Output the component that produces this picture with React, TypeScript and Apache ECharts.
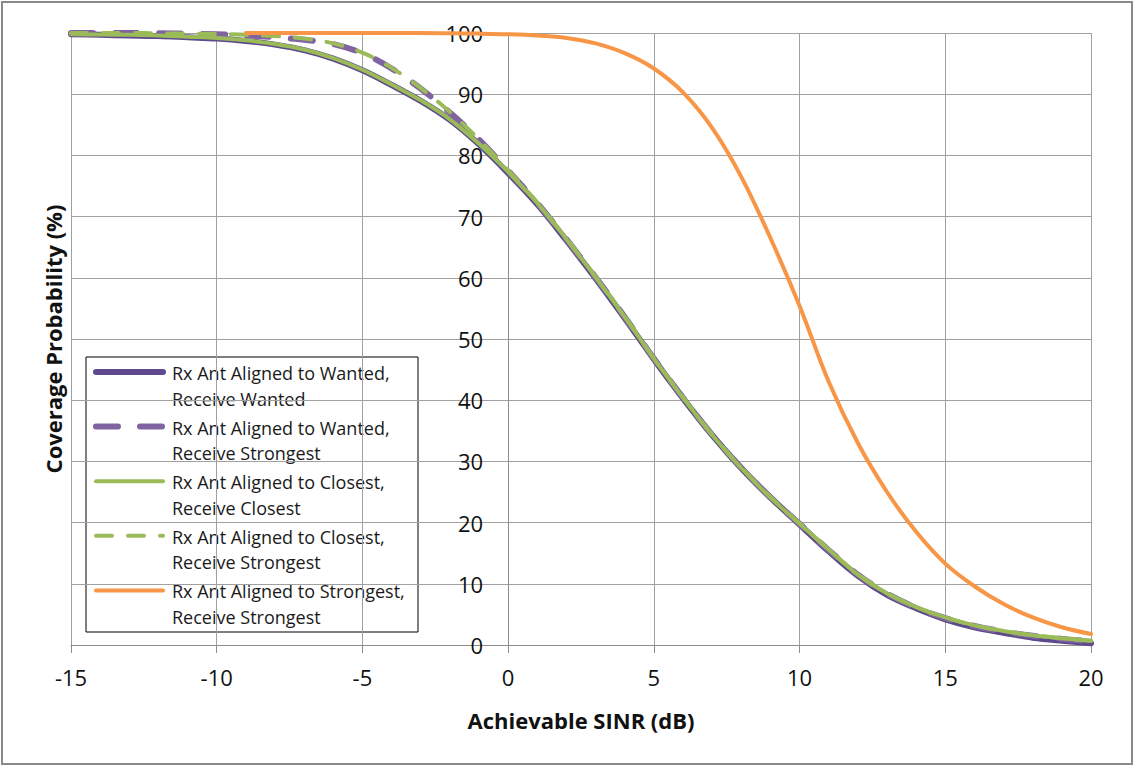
import React, { useEffect, useRef } from "react";
import * as echarts from "echarts";

const FONT = "'Open Sans', 'Noto Sans', sans-serif";

// Achievable SINR (dB) sample points
const sinrDb = [
  -15, -14, -13, -12, -11, -10, -9, -8, -7, -6, -5, -4, -3, -2, -1, 0, 1, 2,
  3, 4, 5, 6, 7, 8, 9, 10, 11, 12, 13, 14, 15, 16, 17, 18, 19, 20,
];

// Coverage probability (%) per series
const wantedWanted = [
  99.8, 99.7, 99.6, 99.5, 99.3, 99.1, 98.7, 98.1, 97.2, 95.8, 93.9, 91.5,
  88.9, 85.8, 81.8, 77.1, 72.0, 66.1, 59.9, 53.4, 46.7, 40.3, 34.3, 28.9,
  24.1, 19.7, 15.3, 11.3, 8.2, 6.0, 4.2, 2.9, 2.0, 1.2, 0.7, 0.3,
];
const wantedStrongest = [
  100, 100, 100, 99.95, 99.9, 99.8, 99.6, 99.3, 98.9, 98.2, 96.7, 94.2, 90.9,
  87.0, 82.6, 77.5, 72.2, 66.3, 60.1, 53.6, 46.8, 40.4, 34.3, 28.9, 24.1,
  19.8, 15.5, 11.5, 8.4, 6.1, 4.4, 3.1, 2.2, 1.5, 1.0, 0.6,
];
const closestClosest = [
  99.8, 99.75, 99.7, 99.6, 99.4, 99.2, 98.8, 98.2, 97.3, 95.9, 94.0, 91.6,
  89.0, 85.9, 81.9, 77.3, 72.2, 66.3, 60.1, 53.6, 46.8, 40.4, 34.3, 28.9,
  24.1, 19.8, 15.6, 11.5, 8.4, 6.2, 4.5, 3.2, 2.3, 1.6, 1.1, 0.7,
];
const closestStrongest = [
  100, 100, 100, 99.95, 99.9, 99.85, 99.7, 99.5, 99.1, 98.3, 96.8, 94.3, 91.0,
  87.1, 82.6, 77.6, 72.3, 66.4, 60.2, 53.7, 46.9, 40.5, 34.4, 29.0, 24.2,
  19.9, 15.6, 11.6, 8.5, 6.2, 4.5, 3.2, 2.3, 1.6, 1.1, 0.7,
];
const strongestStrongest = [
  null, null, null, null, null, null, 100, 100, 100, 100, 100, 100, 100, 99.95,
  99.9, 99.8, 99.6, 99.2, 98.3, 96.7, 94.2, 90.3, 84.5, 76.5, 66.5, 55.4,
  43.0, 33.0, 25.0, 18.5, 13.3, 9.6, 6.7, 4.5, 2.9, 1.8,
];

const seriesNames = [
  ["Rx Ant Aligned to Wanted,", "Receive Wanted"],
  ["Rx Ant Aligned to Wanted,", "Receive Strongest"],
  ["Rx Ant Aligned to Closest,", "Receive Closest"],
  ["Rx Ant Aligned to Closest,", "Receive Strongest"],
  ["Rx Ant Aligned to Strongest,", "Receive Strongest"],
];
const seriesValues = [
  wantedWanted,
  wantedStrongest,
  closestClosest,
  closestStrongest,
  strongestStrongest,
];
const seriesColors = ["#5E4A8C", "#8064A2", "#9BBB59", "#9BBB59", "#F79646"];
const seriesWidths = [6, 6, 4, 4, 4];
const seriesDash: (number[] | null)[] = [null, [22, 22], null, [16, 16], null];

const xTicks = { min: -15, max: 20, step: 5 };
const yTicks = { min: 0, max: 100, step: 10 };

const GRID_LEFT = 71;
const GRID_WIDTH = 1020;

export default function App() {
  const ref = useRef<HTMLDivElement>(null);

  useEffect(() => {
    if (!ref.current) return;
    const chart = echarts.init(ref.current, null, { renderer: "svg" });

    const series = seriesValues.map((vals, i) => ({
      name: seriesNames[i].join(" "),
      type: "line",
      data: sinrDb.map((x, k) => [x, vals[k]]),
      showSymbol: false,
      symbol: "none",
      smooth: 0.35,
      clip: false,
      connectNulls: false,
      lineStyle: {
        color: seriesColors[i],
        width: seriesWidths[i],
        type: seriesDash[i] ? seriesDash[i] : "solid",
        cap: "round",
        join: "round",
      },
      emphasis: { disabled: true },
    }));

    const legendX = 86;
    const legendY = 357;
    const legendW = 332;
    const legendH = 275;
    const itemStep = 54.6;
    const legendChildren: any[] = [
      {
        type: "rect",
        shape: { x: legendX, y: legendY, width: legendW, height: legendH },
        style: { fill: "#fff", stroke: "#000", lineWidth: 1 },
      },
    ];
    seriesNames.forEach((lines, i) => {
      const cy = 372 + i * itemStep;
      legendChildren.push({
        type: "line",
        shape: { x1: 96, y1: cy, x2: 163, y2: cy },
        style: {
          stroke: seriesColors[i],
          lineWidth: seriesWidths[i],
          lineDash: seriesDash[i] || null,
          lineCap: "round",
        },
      });
      lines.forEach((t, j) => {
        legendChildren.push({
          type: "text",
          x: 172,
          y: cy + 1 + j * 25.5,
          style: {
            text: t,
            fontSize: 18,
            fontFamily: FONT,
            fill: "#1a1a1a",
            textVerticalAlign: "middle",
            textAlign: "left",
          },
        });
      });
    });

    // shift the value axis so it crosses the x axis at 0 dB
    const yAxisOffset =
      -((0 - xTicks.min) / (xTicks.max - xTicks.min)) * GRID_WIDTH;

    chart.setOption({
      animation: false,
      backgroundColor: "#fff",
      grid: {
        left: GRID_LEFT,
        top: 33,
        width: GRID_WIDTH,
        height: 612,
        containLabel: false,
        outerBoundsMode: "none",
      },
      xAxis: {
        type: "value",
        min: xTicks.min,
        max: xTicks.max,
        interval: xTicks.step,
        name: "Achievable SINR (dB)",
        nameLocation: "middle",
        nameGap: 64,
        nameTextStyle: {
          fontSize: 22,
          fontWeight: "bold",
          fontFamily: FONT,
          color: "#111",
        },
        axisLine: { onZero: false, lineStyle: { color: "#8c8c8c", width: 1 } },
        axisTick: { show: true, length: 8, lineStyle: { color: "#8c8c8c" } },
        axisLabel: { fontSize: 22, fontFamily: FONT, color: "#111", margin: 21 },
        splitLine: { show: true, lineStyle: { color: "#a0a0a0", width: 1 } },
      },
      yAxis: {
        type: "value",
        min: yTicks.min,
        max: yTicks.max,
        interval: yTicks.step,
        offset: yAxisOffset,
        name: "Coverage Probability (%)",
        nameLocation: "middle",
        nameGap: 444,
        nameTextStyle: {
          fontSize: 22,
          fontWeight: "bold",
          fontFamily: FONT,
          color: "#111",
        },
        axisLine: { show: true, onZero: false, lineStyle: { color: "#8c8c8c", width: 1 } },
        axisTick: { show: false },
        axisLabel: { fontSize: 22, fontFamily: FONT, color: "#111", margin: 25 },
        splitLine: { show: true, lineStyle: { color: "#a0a0a0", width: 1 } },
      },
      series,
      graphic: [
        {
          type: "rect",
          silent: true,
          z: -1,
          shape: { x: 2, y: 2, width: 1130, height: 762 },
          style: { fill: "none", stroke: "#8a8a8a", lineWidth: 2 },
        },
        { type: "group", z: 100, children: legendChildren },
      ],
    });

    return () => chart.dispose();
  }, []);

  return (
    <div
      ref={ref}
      style={{
        position: "absolute",
        left: 0,
        top: 0,
        width: 1134,
        height: 766,
        background: "#fff",
      }}
    />
  );
}
